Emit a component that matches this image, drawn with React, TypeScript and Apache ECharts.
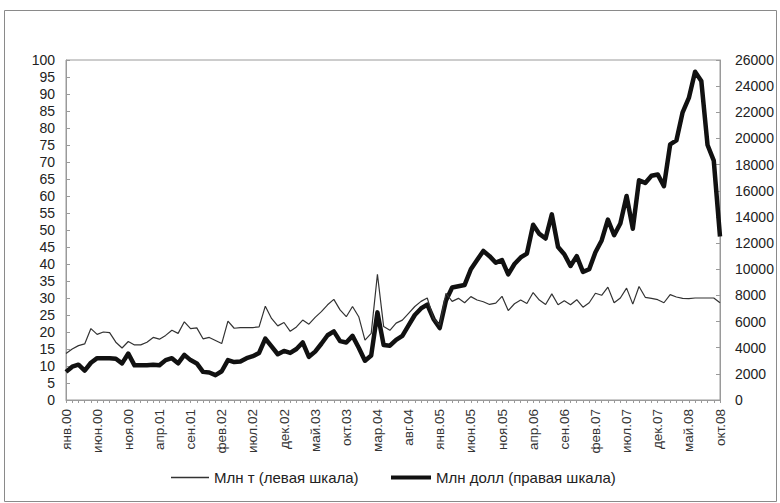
import React, { useEffect, useRef } from "react";
import * as echarts from "echarts";

const monthNames = ["янв", "фев", "мар", "апр", "май", "июн", "июл", "авг", "сен", "окт", "ноя", "дек"];
const years = ["00", "01", "02", "03", "04", "05", "06", "07", "08"];
const lastMonthIndex2008 = 9; // окт.08

const categories: string[] = [];
years.forEach((y, yi) => {
  monthNames.forEach((m, mi) => {
    if (yi === years.length - 1 && mi > lastMonthIndex2008) return;
    categories.push(m + "." + y);
  });
});

// Млн т (левая шкала)
const tonnes = [
  13.7, 15, 16, 16.5, 21, 19.3, 20, 19.8, 17, 15.3,
  17.2, 16.2, 16.2, 17, 18.4, 17.9, 19, 20.5, 19.6, 23,
  21, 21.2, 18, 18.4, 17.5, 16.6, 23.2, 21.1, 21.3, 21.3,
  21.3, 21.5, 27.6, 24, 21.8, 22.8, 20.2, 21.5, 23.5, 22.3,
  24.3, 26, 28, 29.6, 26.5, 24.5, 27.5, 24.5, 17.6, 19.6,
  37, 21.6, 20.5, 22.6, 23.5, 25.5, 27.5, 29, 30, 24,
  22, 31.4, 29, 29.9, 28.6, 30.4, 29.4, 28.9, 28.1, 28.5,
  30.5, 26.3, 28.3, 29.4, 28.4, 31.6, 29.4, 28.1, 31.2, 28,
  29.2, 28, 29.5, 27.3, 28.6, 31.4, 30.8, 33.2, 28.6, 30,
  32.9, 28.2, 33.4, 30.2, 29.9, 29.5, 28.6, 31, 30.3, 29.9,
  29.8, 30, 30, 30, 30, 28.6,
];

// Млн долл (правая шкала)
const dollars = [
  2150, 2550, 2700, 2250, 2850, 3200, 3200, 3200, 3150, 2800,
  3550, 2650, 2650, 2650, 2700, 2650, 3050, 3200, 2800, 3450,
  3050, 2800, 2150, 2100, 1900, 2200, 3050, 2900, 2950, 3200,
  3350, 3600, 4700, 4100, 3500, 3750, 3600, 3900, 4400, 3300,
  3700, 4300, 4950, 5250, 4500, 4400, 4900, 4000, 3000, 3400,
  6700, 4200, 4150, 4600, 4900, 5700, 6500, 7000, 7300, 6200,
  5500, 7600, 8600, 8700, 8800, 10000, 10700, 11400, 11000, 10500,
  10700, 9600, 10400, 10900, 11200, 13400, 12700, 12350, 14200, 11700,
  11150, 10250, 11000, 9800, 10000, 11300, 12200, 13800, 12600, 13500,
  15600, 13100, 16800, 16600, 17150, 17250, 16350, 19550, 19850, 22000,
  23100, 25100, 24400, 19500, 18300, 12500,
];

const seriesNames = ["Млн т (левая шкала)", "Млн долл (правая шкала)"];

const FONT = "'Liberation Sans', Arial, sans-serif";

export default function App() {
  const ref = useRef<HTMLDivElement>(null);
  useEffect(() => {
    if (!ref.current) return;
    const chart = echarts.init(ref.current, null, { renderer: "svg" });
    const axisGray = "#9a9a9a";
    const legendText = { fontFamily: FONT, fontSize: 15, color: "#222" };
    chart.setOption({
      animation: false,
      backgroundColor: "#ffffff",
      textStyle: { fontFamily: FONT },
      graphic: [
        {
          type: "rect",
          shape: { x: 4.5, y: 10.5, width: 772, height: 491 },
          style: { fill: "none", stroke: "#8a8a8a", lineWidth: 1 },
          silent: true,
        },
      ],
      grid: {
        left: 66,
        right: 60,
        top: 60,
        bottom: 103,
        show: true,
        borderColor: axisGray,
        borderWidth: 1,
        backgroundColor: "transparent",
      },
      legend: [
        {
          left: 166,
          top: 465,
          icon: "rect",
          itemWidth: 38,
          itemHeight: 1.5,
          itemGap: 4,
          textStyle: legendText,
          data: [seriesNames[0]],
        },
        {
          left: 386,
          top: 465,
          icon: "rect",
          itemWidth: 40,
          itemHeight: 4,
          itemGap: 4,
          textStyle: legendText,
          data: [seriesNames[1]],
        },
      ],
      xAxis: {
        type: "category",
        data: categories,
        boundaryGap: false,
        axisLine: { show: true, lineStyle: { color: axisGray } },
        axisTick: { show: true, interval: 0, length: 3, lineStyle: { color: axisGray } },
        axisLabel: {
          interval: 4,
          rotate: 90,
          fontSize: 13.5,
          color: "#333",
          fontFamily: FONT,
          margin: 9,
        },
        splitLine: { show: false },
      },
      yAxis: [
        {
          type: "value",
          min: 0,
          max: 100,
          interval: 5,
          position: "left",
          axisLine: { show: true, lineStyle: { color: axisGray } },
          axisTick: { show: true, inside: true, length: 4, lineStyle: { color: axisGray } },
          axisLabel: { fontSize: 14, color: "#222", fontFamily: FONT, margin: 11 },
          splitLine: { show: false },
        },
        {
          type: "value",
          min: 0,
          max: 26000,
          interval: 2000,
          position: "right",
          axisLine: { show: true, lineStyle: { color: axisGray } },
          axisTick: { show: true, inside: true, length: 4, lineStyle: { color: axisGray } },
          axisLabel: {
            fontSize: 14,
            color: "#222",
            fontFamily: FONT,
            margin: 15,
            formatter: (v: number) => String(v),
          },
          splitLine: { show: false },
        },
      ],
      series: [
        {
          name: seriesNames[0],
          type: "line",
          yAxisIndex: 0,
          data: tonnes,
          symbol: "none",
          lineStyle: { color: "#333", width: 1.2 },
          itemStyle: { color: "#333" },
          z: 3,
        },
        {
          name: seriesNames[1],
          type: "line",
          yAxisIndex: 1,
          data: dollars,
          symbol: "none",
          lineStyle: { color: "#111", width: 4.5, join: "round" },
          itemStyle: { color: "#111" },
          z: 2,
        },
      ],
    });
    return () => chart.dispose();
  }, []);
  return (
    <div
      ref={ref}
      style={{ position: "fixed", left: 0, top: 0, width: 780, height: 503, background: "#fff" }}
    />
  );
}
